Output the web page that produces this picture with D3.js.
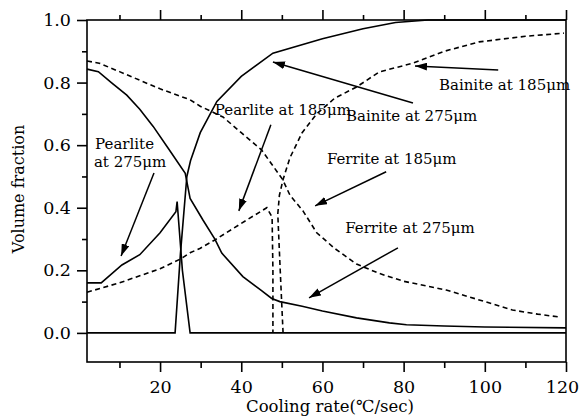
<!DOCTYPE html>
<html><head><meta charset="utf-8">
<script src="https://cdn.jsdelivr.net/npm/d3@7"></script>
<style>
body{margin:0;background:#fff;}
text{font-family:"DejaVu Serif","Liberation Serif",serif;fill:#000;}
</style></head>
<body><svg id="c" width="579" height="419"></svg>
<script>
// ---- data ----
const xTicks = [20, 40, 60, 80, 100, 120];
const xMinorTicks = [10, 30, 50, 70, 90, 110];
const yTicks = [0.0, 0.2, 0.4, 0.6, 0.8, 1.0];
const yMinorTicks = [0.1, 0.3, 0.5, 0.7, 0.9];

const ferrite275 = [[2,0.843],[4.8,0.835],[8,0.8],[11.8,0.76],[15,0.715],[18.3,0.66],[22,0.59],[26.2,0.51],[27.4,0.43],[30.6,0.36],[33.5,0.3],[35.2,0.255],[40.4,0.18],[45,0.135],[47.5,0.11],[49.5,0.1],[55,0.085],[60,0.07],[68.4,0.048],[76.5,0.032],[80.7,0.026],[90,0.022],[100,0.019],[120,0.016]];
const pearlite275 = [[2,0.16],[5.5,0.16],[10.6,0.217],[15,0.25],[20,0.32],[23.9,0.387],[24.2,0.42],[25.5,0.2],[27.4,0],[120,0]];
const bainite275 = [[2,0],[23.7,0],[25,0.25],[26.6,0.5],[27.5,0.55],[29.9,0.64],[34,0.74],[40,0.82],[47.8,0.894],[60,0.94],[70,0.972],[78,0.992],[86,1.0],[120,1.0]];
const ferrite185 = [[2,0.869],[5,0.862],[10,0.835],[20,0.78],[27.4,0.745],[29.8,0.725],[35.5,0.69],[40,0.64],[45,0.585],[50.2,0.49],[52,0.44],[55.2,0.39],[58.6,0.32],[63,0.27],[68.4,0.22],[74,0.19],[80,0.165],[90.5,0.137],[100,0.1],[106.8,0.073],[113,0.06],[118.8,0.05]];
const pearlite185 = [[2,0.13],[10,0.16],[20,0.205],[25,0.236],[27.4,0.256],[29.8,0.27],[33.5,0.297],[40,0.35],[46.3,0.40],[47.6,0.37],[47.8,0.2],[47.8,0]];
const bainite185 = [[50.3,0],[49.6,0.2],[49.0,0.38],[49.4,0.44],[50.3,0.49],[52,0.56],[55,0.64],[58.6,0.70],[63,0.75],[68.4,0.786],[74,0.834],[82.3,0.862],[90,0.9],[98.6,0.93],[110,0.948],[119.5,0.958]];

const seriesList = [
  {data: ferrite275, dash: null},
  {data: pearlite275, dash: null},
  {data: bainite275, dash: null},
  {data: ferrite185, dash: "5,3.5"},
  {data: pearlite185, dash: "5,3.5"},
  {data: bainite185, dash: "5,3.5"}
];

// labels: text lines, anchor [x,y] in data units; arrows from->to in data units
const labels = [
  {lines:["Pearlite","at 275μm"], at:[[4.0,0.588],[3.7,0.53]]},
  {lines:["Pearlite at 185μm"], at:[[33.5,0.697]]},
  {lines:["Bainite at 275μm"], at:[[65.8,0.678]]},
  {lines:["Bainite at 185μm"], at:[[88.7,0.777]]},
  {lines:["Ferrite at 185μm"], at:[[61.1,0.54]]},
  {lines:["Ferrite at 275μm"], at:[[65.6,0.32]]}
];
const arrows = [
  {from:[18.5,0.511], to:[10.4,0.246]},
  {from:[47.3,0.665], to:[39.4,0.39]},
  {from:[82.3,0.735], to:[47.8,0.866]},
  {from:[103.3,0.84], to:[82.8,0.853]},
  {from:[75.7,0.515], to:[58.2,0.406]},
  {from:[78.6,0.272], to:[56.7,0.112]}
];

// ---- layout ----
const svg = d3.select("#c");
const L = 87, R = 566, T = 20, B = 362;
const x = d3.scaleLinear().domain([2,120]).range([L,R]);
const y = d3.scaleLinear().domain([-0.093,1.0]).range([B,T]);

// frame
svg.append("rect").attr("x",L).attr("y",T).attr("width",R-L).attr("height",B-T)
  .attr("fill","none").attr("stroke","#000").attr("stroke-width",1.6);

// axes
const fmt = d3.format(".1f");
const axB = svg.append("g").attr("transform",`translate(0,${B})`)
  .call(d3.axisBottom(x).tickValues(xTicks).tickSize(10).tickSizeOuter(0).tickPadding(9).tickFormat(d3.format("d")));
const axBm = svg.append("g").attr("transform",`translate(0,${B})`)
  .call(d3.axisBottom(x).tickValues(xMinorTicks).tickSize(6).tickSizeOuter(0).tickFormat(""));
const axT = svg.append("g").attr("transform",`translate(0,${T})`)
  .call(d3.axisTop(x).tickValues(xTicks).tickSize(10).tickSizeOuter(0).tickFormat(""));
const axTm = svg.append("g").attr("transform",`translate(0,${T})`)
  .call(d3.axisTop(x).tickValues(xMinorTicks).tickSize(5).tickSizeOuter(0).tickFormat(""));
const axL = svg.append("g").attr("transform",`translate(${L},0)`)
  .call(d3.axisLeft(y).tickValues(yTicks).tickSize(10).tickSizeOuter(0).tickPadding(6).tickFormat(fmt));
const axLm = svg.append("g").attr("transform",`translate(${L},0)`)
  .call(d3.axisLeft(y).tickValues(yMinorTicks).tickSize(5).tickSizeOuter(0).tickFormat(""));
[axB,axBm,axT,axTm,axL,axLm].forEach(a=>{
  a.select(".domain").remove();
  a.selectAll("line").attr("stroke","#000").attr("stroke-width",1.6);
  a.selectAll("text").attr("font-size",17.5).attr("font-family","Liberation Serif").attr("fill","#000");
});
// keep the last x label inside the window
axB.selectAll(".tick text").filter(d=>d===120).attr("dx",-4);

// series
const line = d3.line().x(d=>x(d[0])).y(d=>y(d[1]));
seriesList.forEach(s=>{
  svg.append("path").attr("d",line(s.data)).attr("fill","none")
    .attr("stroke","#000").attr("stroke-width",1.6)
    .attr("stroke-dasharray",s.dash);
});

// labels
labels.forEach(lb=>{
  lb.lines.forEach((t,i)=>{
    svg.append("text").attr("x",x(lb.at[i][0])).attr("y",y(lb.at[i][1]))
      .attr("font-size",15).text(t);
  });
});

// arrows
svg.append("defs").append("marker").attr("id","ah").attr("viewBox","0 0 12 8")
  .attr("refX",12).attr("refY",4).attr("markerWidth",12).attr("markerHeight",8)
  .attr("markerUnits","userSpaceOnUse").attr("orient","auto")
  .append("path").attr("d","M0,0L12,4L0,8Z").attr("fill","#000");
arrows.forEach(a=>{
  svg.append("line").attr("x1",x(a.from[0])).attr("y1",y(a.from[1]))
    .attr("x2",x(a.to[0])).attr("y2",y(a.to[1]))
    .attr("stroke","#000").attr("stroke-width",1.5).attr("marker-end","url(#ah)");
});

// axis titles
svg.append("text").attr("x",330).attr("y",412).attr("text-anchor","middle")
  .attr("font-size",16.5).text("Cooling rate(℃/sec)");
svg.append("text").attr("transform","translate(24,189) rotate(-90)").attr("text-anchor","middle")
  .attr("font-size",16).text("Volume fraction");
</script></body></html>
